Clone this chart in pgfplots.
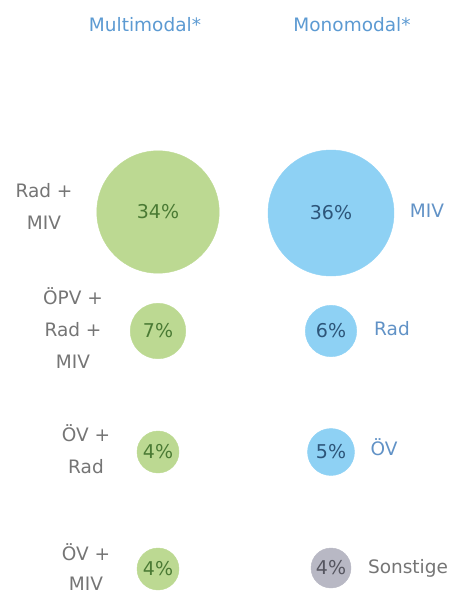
\documentclass[border=0pt]{standalone}
\usepackage{pgfplots}
\usepackage{pgfplotstable}
\pgfplotsset{compat=1.18}
\usepackage{fontspec}
\setmainfont{DejaVu Sans}
\definecolor{cgreen}{HTML}{BCD992}
\definecolor{cblue}{HTML}{8ED1F4}
\definecolor{cgrey}{HTML}{B8B8C4}
\definecolor{tgreen}{HTML}{4A7A34}
\definecolor{tblue}{HTML}{2D5579}
\definecolor{tgrey}{HTML}{55555F}
\definecolor{ttitle}{HTML}{5C9AD2}
\definecolor{tlab}{HTML}{757575}
\definecolor{tright}{HTML}{6192C6}
\pgfplotstableread{
x y p
158 212 34
158 331 7
158 452 4
158 569 4
}\multi
\pgfplotstableread{
x y p
331 213 36
331 331 6
331 452 5
}\mono
\pgfplotstableread{
x y p
331 568 4
}\sonst
\pgfplotsset{
  bubble/.style n args={2}{scatter, only marks, mark=*,
    visualization depends on={#2*sqrt(\thisrow{p}) \as \msize},
    scatter/@pre marker code/.code={\scope[mark size=\msize, draw=#1, fill=#1]},
    scatter/@post marker code/.code={\endscope},
    point meta=\thisrow{p}},
  bubblelabel/.style={only marks, mark=none, point meta=\thisrow{p},
    nodes near coords={\pgfmathprintnumber{\pgfplotspointmeta}\%},
    every node near coord/.append style={anchor=center, text=#1,
      font=\fontsize{19}{22}\selectfont}},
}
\begin{document}
\begin{tikzpicture}
\begin{axis}[
  width=458pt, height=594pt, scale only axis,
  xmin=0, xmax=458, ymin=0, ymax=594, y dir=reverse,
  hide axis, clip=false,
  /pgf/number format/assume math mode=true,
]
\path (rel axis cs:0,0) rectangle (rel axis cs:1,1);
\addplot[bubble={cgreen}{10.5}] table {\multi};
\addplot[bubble={cblue}{10.5}] table {\mono};
\addplot[bubble={cgrey}{10}] table {\sonst};
\addplot[bubblelabel=tgreen] table {\multi};
\addplot[bubblelabel=tblue] table {\mono};
\addplot[bubblelabel=tgrey] table {\sonst};
\begin{scope}[every node/.style={font=\fontsize{18.5}{32}\selectfont, align=center, inner sep=0pt}]
\node[text=ttitle] at (axis cs:145,25) {Multimodal*};
\node[text=ttitle] at (axis cs:352,25) {Monomodal*};
\node[text=tlab] at (axis cs:44,206) {Rad +\\MIV};
\node[text=tlab] at (axis cs:73,328) {ÖPV +\\Rad +\\MIV};
\node[text=tlab] at (axis cs:86,449) {ÖV +\\Rad};
\node[font=\fontsize{18.5}{30}\selectfont, text=tlab] at (axis cs:86,567) {ÖV +\\MIV};
\node[text=tright] at (axis cs:427,211) {MIV};
\node[text=tright] at (axis cs:392,329) {Rad};
\node[text=tright] at (axis cs:384,447) {ÖV};
\node[text=tlab] at (axis cs:408,568) {Sonstige};
\end{scope}
\end{axis}
\end{tikzpicture}
\end{document}
